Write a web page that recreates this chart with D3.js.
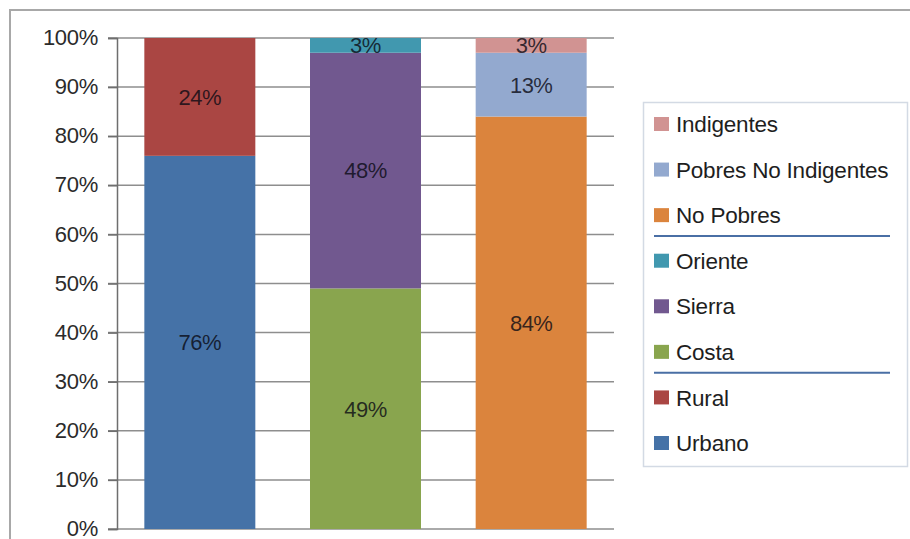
<!DOCTYPE html>
<html>
<head>
<meta charset="utf-8">
<script src="https://cdn.jsdelivr.net/npm/d3@7"></script>
<style>
  html, body { margin: 0; padding: 0; background: #fff; }
  svg { display: block; font-family: "Liberation Sans", Arial, sans-serif; }
</style>
</head>
<body>
<svg id="chart" width="910" height="539"></svg>
<script>
// Stacked 100% bars: area, region and poverty breakdown
const categories = ["Área", "Región", "Pobreza"];

const areaNames = ["Urbano", "Rural"];
const areaValues = [76, 24];
const areaColors = ["#4572A7", "#AA4643"];

const regionNames = ["Costa", "Sierra", "Oriente"];
const regionValues = [49, 48, 3];
const regionColors = ["#89A54E", "#71588F", "#4198AF"];

const povertyNames = ["No Pobres", "Pobres No Indigentes", "Indigentes"];
const povertyValues = [84, 13, 3];
const povertyColors = ["#DB843D", "#93A9CF", "#D19392"];

const yTicks = [0, 10, 20, 30, 40, 50, 60, 70, 80, 90, 100];

// Legend order, top to bottom; null marks a separator line
const legendOrder = ["Indigentes", "Pobres No Indigentes", "No Pobres", null,
                     "Oriente", "Sierra", "Costa", null, "Rural", "Urbano"];

const stacks = [
  { cat: categories[0], names: areaNames, values: areaValues, colors: areaColors },
  { cat: categories[1], names: regionNames, values: regionValues, colors: regionColors },
  { cat: categories[2], names: povertyNames, values: povertyValues, colors: povertyColors }
];

const colorOf = {};
stacks.forEach(s => s.names.forEach((n, i) => colorOf[n] = s.colors[i]));

const svg = d3.select("#chart");

// Outer chart frame (top and left edges visible)
svg.append("path")
  .attr("d", "M10,539 L10,10 L910,10")
  .attr("fill", "none")
  .attr("stroke", "#a8a8a8")
  .attr("stroke-width", 2);

const plot = { left: 117, right: 614, top: 38, bottom: 529 };

const x = d3.scaleBand()
  .domain(categories)
  .range([plot.left, plot.right])
  .paddingInner(0.33)
  .paddingOuter(0.165);

const y = d3.scaleLinear()
  .domain([0, 100])
  .range([plot.bottom, plot.top]);

// Gridlines
svg.append("g")
  .selectAll("line")
  .data(yTicks)
  .join("line")
  .attr("x1", plot.left - 9)
  .attr("x2", plot.right)
  .attr("y1", d => y(d))
  .attr("y2", d => y(d))
  .attr("stroke", "#8e8e8e")
  .attr("stroke-width", 1.5);

// Y axis
const yAxis = svg.append("g")
  .attr("transform", `translate(${plot.left},0)`)
  .call(d3.axisLeft(y).tickValues(yTicks).tickFormat(d => d + "%").tickSize(9).tickPadding(10));
yAxis.select(".domain").attr("stroke", "#6e6e6e").attr("stroke-width", 1.5);
yAxis.selectAll(".tick line").attr("stroke", "#6e6e6e").attr("stroke-width", 1.5);
yAxis.selectAll(".tick text")
  .attr("fill", "#2b2b2b")
  .attr("dy", "0.3em")
  .style("font-size", "22px")
  .style("font-family", "'Liberation Sans', Arial, sans-serif")
  .style("letter-spacing", "-0.3px");

// Bars
stacks.forEach(s => {
  let acc = 0;
  const segs = s.values.map((v, i) => {
    const seg = { name: s.names[i], value: v, y0: acc, y1: acc + v, color: s.colors[i] };
    acc += v;
    return seg;
  });
  const g = svg.append("g");
  g.selectAll("rect")
    .data(segs)
    .join("rect")
    .attr("x", x(s.cat))
    .attr("width", x.bandwidth())
    .attr("y", d => y(d.y1))
    .attr("height", d => y(d.y0) - y(d.y1))
    .attr("fill", d => d.color);
  g.selectAll("text")
    .data(segs)
    .join("text")
    .attr("x", x(s.cat) + x.bandwidth() / 2)
    .attr("y", d => y((d.y0 + d.y1) / 2))
    .attr("dy", "0.36em")
    .attr("text-anchor", "middle")
    .attr("fill", "#0a0a14")
    .attr("fill-opacity", 0.8)
    .style("font-size", "22px")
    .style("letter-spacing", "-0.5px")
    .text(d => d.value + "%");
});

// Legend
const legend = { left: 643, top: 102, width: 264, height: 364 };
const lg = svg.append("g");
lg.append("rect")
  .attr("x", legend.left + 0.5)
  .attr("y", legend.top + 0.5)
  .attr("width", legend.width)
  .attr("height", legend.height)
  .attr("fill", "#fff")
  .attr("stroke", "#d3dae4")
  .attr("stroke-width", 1.5);

const itemNames = legendOrder.filter(d => d !== null);
const ly = d3.scalePoint()
  .domain(itemNames)
  .range([124, 443]);

const items = lg.selectAll("g.item")
  .data(itemNames)
  .join("g")
  .attr("class", "item")
  .attr("transform", d => `translate(${legend.left + 11},${ly(d)})`);
items.append("rect")
  .attr("x", 0)
  .attr("y", -7)
  .attr("width", 15)
  .attr("height", 14)
  .attr("fill", d => colorOf[d]);
items.append("text")
  .attr("x", 22)
  .attr("dy", "0.36em")
  .attr("fill", "#1e1e1e")
  .style("font-size", "22.5px")
  .style("letter-spacing", "-0.2px")
  .text(d => d);

// Separators between the legend groups
const sepAfter = [];
legendOrder.forEach((d, i) => { if (d === null) sepAfter.push(legendOrder[i - 1]); });
lg.selectAll("line.sep")
  .data(sepAfter)
  .join("line")
  .attr("class", "sep")
  .attr("x1", legend.left + 11)
  .attr("x2", legend.left + 247)
  .attr("y1", d => ly(d) + ly.step() / 2 - 2)
  .attr("y2", d => ly(d) + ly.step() / 2 - 2)
  .attr("stroke", "#4a6fa5")
  .attr("stroke-width", 2);
</script>
</body>
</html>
